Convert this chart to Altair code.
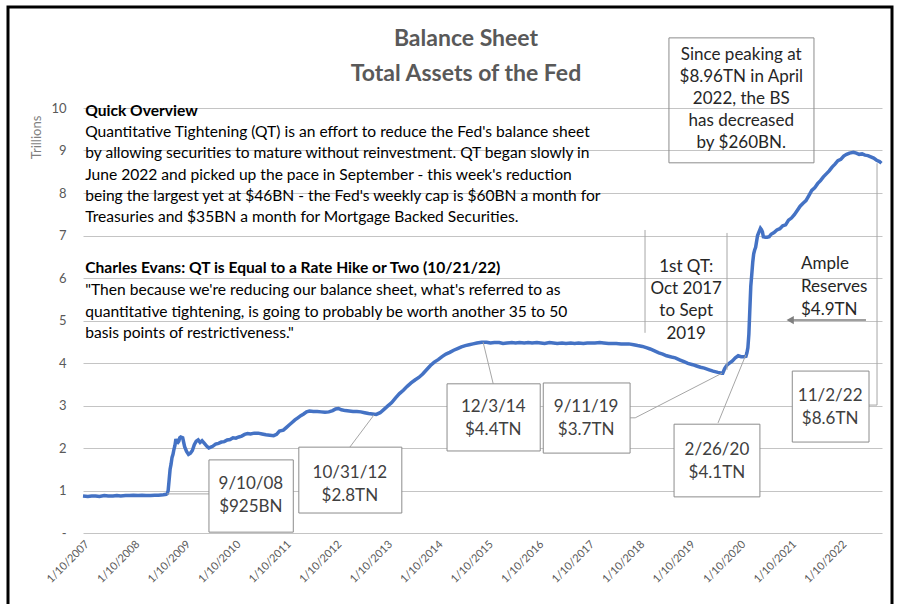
import altair as alt
import pandas as pd

# ---------------- series, trillions of USD ----------------
dates = [
    "2007-01-10", "2007-02-14", "2007-03-14", "2007-04-11", "2007-05-09", "2007-06-13",
    "2007-07-11", "2007-08-15", "2007-09-12", "2007-10-10", "2007-11-14", "2007-12-12",
    "2008-01-09", "2008-02-13", "2008-03-12", "2008-04-09", "2008-05-14", "2008-06-11",
    "2008-07-09", "2008-08-13", "2008-09-03", "2008-09-10", "2008-09-17", "2008-09-24",
    "2008-10-01", "2008-10-08", "2008-10-15", "2008-10-22", "2008-10-29", "2008-11-05",
    "2008-11-12", "2008-11-19", "2008-11-26", "2008-12-03", "2008-12-10", "2008-12-17",
    "2008-12-31", "2009-01-14", "2009-01-28", "2009-02-11", "2009-02-25", "2009-03-11",
    "2009-03-25", "2009-04-08", "2009-04-22", "2009-05-06", "2009-05-20", "2009-06-03",
    "2009-06-24", "2009-07-08", "2009-07-22", "2009-08-05", "2009-08-26", "2009-09-16",
    "2009-10-07", "2009-10-28", "2009-11-18", "2009-12-09", "2009-12-30", "2010-01-20",
    "2010-02-10", "2010-03-03", "2010-03-24", "2010-04-14", "2010-05-05", "2010-06-02",
    "2010-06-30", "2010-07-28", "2010-08-25", "2010-09-22", "2010-10-20", "2010-11-10",
    "2010-12-01", "2010-12-29", "2011-01-19", "2011-02-09", "2011-03-02", "2011-03-23",
    "2011-04-13", "2011-05-04", "2011-05-25", "2011-06-15", "2011-07-06", "2011-08-03",
    "2011-08-31", "2011-09-28", "2011-10-26", "2011-11-23", "2011-12-21", "2012-01-11",
    "2012-02-01", "2012-02-22", "2012-03-21", "2012-04-18", "2012-05-16", "2012-06-13",
    "2012-07-11", "2012-08-08", "2012-09-05", "2012-10-03", "2012-10-31", "2012-11-28",
    "2012-12-26", "2013-01-23", "2013-02-20", "2013-03-20", "2013-04-17", "2013-05-15",
    "2013-06-12", "2013-07-10", "2013-08-07", "2013-09-04", "2013-10-02", "2013-10-30",
    "2013-11-27", "2013-12-25", "2014-01-22", "2014-02-19", "2014-03-19", "2014-04-16",
    "2014-05-14", "2014-06-11", "2014-07-09", "2014-08-06", "2014-09-03", "2014-10-01",
    "2014-10-29", "2014-12-03", "2015-01-07", "2015-02-04", "2015-03-04", "2015-04-08",
    "2015-05-06", "2015-06-03", "2015-07-08", "2015-08-05", "2015-09-02", "2015-10-07",
    "2015-11-04", "2015-12-02", "2016-01-06", "2016-02-03", "2016-03-02", "2016-04-06",
    "2016-05-04", "2016-06-01", "2016-07-06", "2016-08-03", "2016-09-07", "2016-10-05",
    "2016-11-02", "2016-12-07", "2017-01-04", "2017-02-01", "2017-03-01", "2017-04-05",
    "2017-05-03", "2017-06-07", "2017-07-05", "2017-08-02", "2017-09-06", "2017-10-04",
    "2017-11-01", "2017-12-06", "2018-01-03", "2018-02-07", "2018-03-07", "2018-04-04",
    "2018-05-02", "2018-06-06", "2018-07-04", "2018-08-01", "2018-09-05", "2018-10-03",
    "2018-11-07", "2018-12-05", "2019-01-02", "2019-02-06", "2019-03-06", "2019-04-03",
    "2019-05-01", "2019-06-05", "2019-07-03", "2019-08-07", "2019-09-04", "2019-09-11",
    "2019-09-25", "2019-10-09", "2019-10-30", "2019-11-20", "2019-12-11", "2020-01-01",
    "2020-01-22", "2020-02-12", "2020-02-26", "2020-03-04", "2020-03-11", "2020-03-18",
    "2020-03-25", "2020-04-01", "2020-04-08", "2020-04-15", "2020-04-22", "2020-04-29",
    "2020-05-06", "2020-05-20", "2020-06-10", "2020-06-17", "2020-06-24", "2020-07-01",
    "2020-07-15", "2020-07-29", "2020-08-12", "2020-08-26", "2020-09-16", "2020-10-07",
    "2020-10-28", "2020-11-18", "2020-12-09", "2020-12-30", "2021-01-20", "2021-02-10",
    "2021-03-03", "2021-03-24", "2021-04-14", "2021-05-05", "2021-05-26", "2021-06-16",
    "2021-07-07", "2021-07-28", "2021-08-18", "2021-09-08", "2021-09-29", "2021-10-20",
    "2021-11-10", "2021-12-01", "2021-12-22", "2022-01-12", "2022-02-02", "2022-02-23",
    "2022-03-16", "2022-04-13", "2022-05-04", "2022-05-25", "2022-06-15", "2022-07-06",
    "2022-07-27", "2022-08-17", "2022-09-07", "2022-09-28", "2022-10-19", "2022-11-02",
]
assets = [
    0.87, 0.86, 0.87, 0.87, 0.86, 0.88,
    0.87, 0.87, 0.88, 0.87, 0.88, 0.88,
    0.89, 0.88, 0.89, 0.88, 0.88, 0.89,
    0.89, 0.90, 0.91, 0.925, 1.00, 1.25,
    1.50, 1.62, 1.78, 1.85, 1.97, 2.06,
    2.21, 2.14, 2.13, 2.16, 2.24, 2.26,
    2.24, 2.03, 1.92, 1.85, 1.88, 1.94,
    2.08, 2.16, 2.19, 2.13, 2.17, 2.12,
    2.04, 2.00, 2.02, 2.04, 2.09, 2.11,
    2.14, 2.15, 2.19, 2.20, 2.24, 2.23,
    2.26, 2.28, 2.32, 2.34, 2.33, 2.35,
    2.35, 2.33, 2.31, 2.30, 2.29, 2.32,
    2.40, 2.42, 2.48, 2.54, 2.60, 2.66,
    2.71, 2.76, 2.80, 2.85, 2.87, 2.86,
    2.86, 2.85, 2.84, 2.85, 2.88, 2.92,
    2.93, 2.90, 2.88, 2.87, 2.86, 2.86,
    2.85, 2.83, 2.81, 2.80, 2.79, 2.83,
    2.91, 2.99, 3.07, 3.18, 3.28, 3.36,
    3.45, 3.53, 3.60, 3.66, 3.74, 3.84,
    3.94, 4.02, 4.08, 4.15, 4.21, 4.25,
    4.30, 4.34, 4.38, 4.41, 4.43, 4.45,
    4.47, 4.49, 4.49, 4.47, 4.48, 4.48,
    4.46, 4.47, 4.48, 4.47, 4.48, 4.47,
    4.48, 4.47, 4.48, 4.47, 4.46, 4.48,
    4.47, 4.46, 4.47, 4.46, 4.47, 4.46,
    4.47, 4.46, 4.47, 4.47, 4.47, 4.48,
    4.47, 4.46, 4.46, 4.46, 4.45, 4.45,
    4.45, 4.43, 4.41, 4.39, 4.36, 4.33,
    4.29, 4.24, 4.21, 4.17, 4.14, 4.12,
    4.07, 4.03, 3.99, 3.96, 3.93, 3.90,
    3.88, 3.84, 3.81, 3.78, 3.76, 3.76,
    3.87, 3.94, 4.00, 4.05, 4.12, 4.17,
    4.15, 4.15, 4.16, 4.24, 4.36, 4.67,
    5.25, 5.81, 6.08, 6.37, 6.57, 6.66,
    6.72, 7.00, 7.17, 7.14, 7.09, 6.97,
    6.96, 6.96, 6.97, 7.03, 7.07, 7.13,
    7.16, 7.23, 7.25, 7.36, 7.41, 7.49,
    7.59, 7.69, 7.76, 7.82, 7.94, 8.06,
    8.12, 8.22, 8.29, 8.38, 8.45, 8.52,
    8.61, 8.68, 8.76, 8.79, 8.87, 8.91,
    8.94, 8.96, 8.94, 8.91, 8.92, 8.89,
    8.88, 8.85, 8.82, 8.77, 8.74, 8.70,
]

tick_years = list(range(2007, 2023))
y_ticks = list(range(0, 11))

# ---------------- texts ----------------
title_lines = ["Balance Sheet", "Total Assets of the Fed"]
overview_head = "Quick Overview"
overview_body = [
    "Quantitative Tightening (QT) is an effort to reduce the Fed's balance sheet",
    "by allowing securities to mature without reinvestment. QT began slowly in",
    "June 2022 and picked up the pace in September - this week's reduction",
    "being the largest yet at $46BN - the Fed's weekly cap is $60BN a month for",
    "Treasuries and $35BN a month for Mortgage Backed Securities.",
]
evans_head = "Charles Evans: QT is Equal to a Rate Hike or Two (10/21/22)"
evans_body = [
    "\"Then because we're reducing our balance sheet, what's referred to as",
    "quantitative tightening, is going to probably be worth another 35 to 50",
    "basis points of restrictiveness.\"",
]
peak_lines = ["Since peaking at", "$8.96TN in April", "2022, the BS", "has decreased", "by $260BN."]
qt_lines = ["1st QT:", "Oct 2017", "to Sept", "2019"]
ample_lines = ["Ample", "Reserves", "$4.9TN"]
callout_labels = [
    ["9/10/08", "$925BN"],
    ["10/31/12", "$2.8TN"],
    ["12/3/14", "$4.4TN"],
    ["9/11/19", "$3.7TN"],
    ["2/26/20", "$4.1TN"],
    ["11/2/22", "$8.6TN"],
]
# callout boxes in (decimal year, trillions): x1, x2, y_top, y_bottom, text x, first line y
callout_boxes = [
    (2009.52, 2011.19, 1.72, 0.02, 2010.35, 1.15),
    (2011.30, 2013.34, 2.02, 0.47, 2012.31, 1.41),
    (2014.235, 2016.08, 3.51, 1.93, 2015.15, 2.96),
    (2016.14, 2017.86, 3.53, 1.88, 2016.99, 2.96),
    (2018.73, 2020.43, 2.56, 0.85, 2019.58, 1.95),
    (2021.07, 2022.59, 3.81, 2.14, 2021.82, 3.22),
]
# leader segments (decimal year, trillions)
leaders = [
    (2008.69, 0.92, 2009.52, 0.92),
    (2012.31, 2.02, 2012.79, 2.78),
    (2015.15, 3.51, 2014.95, 4.49),
    (2017.86, 2.71, 2017.96, 2.71),
    (2017.96, 2.71, 2019.68, 3.76),
    (2019.60, 2.59, 2020.15, 4.19),
    (2022.75, 8.70, 2022.75, 3.01),
    (2022.59, 3.01, 2022.75, 3.01),
    (2018.156, 7.13, 2018.156, 4.71),
    (2019.78, 7.06, 2019.78, 3.84),
]


def dy(t):
    ts = pd.Timestamp("2007-01-01") + pd.Timedelta(days=(t - 2007.0) * 365.25)
    return ts.strftime("%Y-%m-%d")


FONT = "Lato"
df = pd.DataFrame({"date": dates, "value": assets})

xs = alt.Scale(type="utc", domain=[alt.DateTime(year=2007, month=1, date=10, utc=True),
                                   alt.DateTime(year=2022, month=11, date=6, utc=True)])
ys = alt.Scale(domain=[0, 10], nice=False)

X = lambda: alt.X("date:T", scale=xs, title=None)
Y = lambda: alt.Y("value:Q", scale=ys, title="Trillions")

line = alt.Chart(df).mark_line(color="#4472C4", strokeWidth=3.5).encode(
    x=alt.X("date:T", scale=xs, title=None, axis=alt.Axis(
        values=[alt.DateTime(year=y, month=1, date=10, utc=True) for y in tick_years],
        labelExpr="utcFormat(datum.value, '%-m/%-d/%Y')",
        labelAngle=-45, labelFontSize=11, labelColor="#595959", labelFont=FONT,
        labelPadding=5, ticks=False, domain=False, grid=False, labelOverlap=False,
        labelBound=False, labelFlush=False)),
    y=alt.Y("value:Q", scale=ys, title="Trillions", axis=alt.Axis(
        titleFont=FONT, titleFontSize=13, titleFontWeight="normal",
        titleColor="#7f7f7f", titleAngle=-90, titleX=-47, titleY=29,
        titleAlign="center", titleBaseline="middle",
        values=y_ticks, labelExpr="datum.value == 0 ? '-\u00a0\u00a0' : datum.label",
        labelFontSize=13, labelColor="#595959", labelFont=FONT, labelPadding=17,
        ticks=False, domain=False, grid=True, gridColor="#c4c4c4", gridWidth=1)),
)


def text_layer(rows, **kw):
    d = pd.DataFrame(rows, columns=["date", "value", "text"])
    return alt.Chart(d).mark_text(font=FONT, baseline="middle", **kw).encode(
        x=X(), y=Y(), text="text:N",
    )


# titles
title_rows = [(dy(2014.61), v, t) for t, v in zip(title_lines, [11.62, 10.8])]
titles = text_layer(title_rows, fontSize=23, fontWeight="bold", color="#595959", align="center")

BODY = 15.6
ov_rows = [(dy(2007.07), 9.93 - 0.5 * i, t) for i, t in enumerate(overview_body, start=1)]
ov_body = text_layer(ov_rows, fontSize=BODY, color="#000000", align="left")
ov_head = text_layer([(dy(2007.07), 9.93, overview_head)], fontSize=BODY, fontWeight="bold",
                     color="#000000", align="left")
ev_rows = [(dy(2007.07), 6.24 - 0.515 * i, t) for i, t in enumerate(evans_body, start=1)]
ev_body = text_layer(ev_rows, fontSize=BODY, color="#000000", align="left")
ev_head = text_layer([(dy(2007.07), 6.24, evans_head)], fontSize=BODY, fontWeight="bold",
                     color="#000000", align="left")

peak_rows = [(dy(2020.06), 11.25 - 0.52 * i, t) for i, t in enumerate(peak_lines)]
peak_txt = text_layer(peak_rows, fontSize=17, color="#262626", align="center")
qt_rows = [(dy(2018.97), 6.26 - 0.523 * i, t) for i, t in enumerate(qt_lines)]
qt_txt = text_layer(qt_rows, fontSize=17, color="#262626", align="center")
amp_rows = [(dy(2021.245), 6.33 - 0.54 * i, t) for i, t in enumerate(ample_lines)]
amp_txt = text_layer(amp_rows, fontSize=17, color="#262626", align="left")

call_rows = []
for lab, b in zip(callout_labels, callout_boxes):
    for i, t in enumerate(lab):
        call_rows.append((dy(b[4]), b[5] - 0.54 * i, t))
call_txt = text_layer(call_rows, fontSize=17, color="#404040", align="center")

# boxes
box_df = pd.DataFrame({
    "date": [dy(b[0]) for b in callout_boxes],
    "date2": [dy(b[1]) for b in callout_boxes],
    "value": [b[2] for b in callout_boxes],
    "value2": [b[3] for b in callout_boxes],
})
boxes = alt.Chart(box_df).mark_rect(fill="white", stroke="#8c8c8c", strokeWidth=1).encode(
    x=X(), x2="date2:T", y=Y(), y2="value2:Q",
)
peak_box_df = pd.DataFrame({"date": [dy(2018.63)], "date2": [dy(2021.50)],
                            "value": [11.65], "value2": [8.71]})
peak_box = alt.Chart(peak_box_df).mark_rect(fillOpacity=0, stroke="#8c8c8c", strokeWidth=1).encode(
    x=X(), x2="date2:T", y=Y(), y2="value2:Q",
)

lead_df = pd.DataFrame({
    "date": [dy(s[0]) for s in leaders], "value": [s[1] for s in leaders],
    "date2": [dy(s[2]) for s in leaders], "value2": [s[3] for s in leaders],
})
lead = alt.Chart(lead_df).mark_rule(color="#a6a6a6", strokeWidth=1).encode(
    x=X(), x2="date2:T", y=Y(), y2="value2:Q",
)

arrow_df = pd.DataFrame({"date": [dy(2022.53)], "date2": [dy(2021.02)],
                         "value": [5.01], "value2": [5.01]})
arrow = alt.Chart(arrow_df).mark_rule(color="#7f7f7f", strokeWidth=1.5).encode(
    x=X(), x2="date2:T", y=Y(), y2="value2:Q",
)
head_df = pd.DataFrame({"date": [dy(2021.03)], "value": [5.01]})
head = alt.Chart(head_df).mark_point(shape="triangle-left", filled=True, color="#7f7f7f",
                                     size=70, opacity=1).encode(x=X(), y=Y())

frame = alt.Chart(pd.DataFrame({"a": [0]})).mark_rect(
    fillOpacity=0, stroke="black", strokeWidth=3).encode(
    x=alt.value(-75), x2=alt.value(809), y=alt.value(-101), y2=alt.value(530),
)

chart = alt.layer(
    line, lead, arrow, head, boxes, peak_box,
    titles, ov_head, ov_body, ev_head, ev_body, peak_txt, qt_txt, amp_txt, call_txt, frame,
).properties(
    width=799, height=425,
    autosize=alt.AutoSizeParams(type="none"),
    padding={"left": 83, "top": 108, "right": 23, "bottom": 71},
    background="white",
).configure_view(strokeWidth=0)

chart.save("out.html", embed_options={"renderer": "svg", "actions": False})
